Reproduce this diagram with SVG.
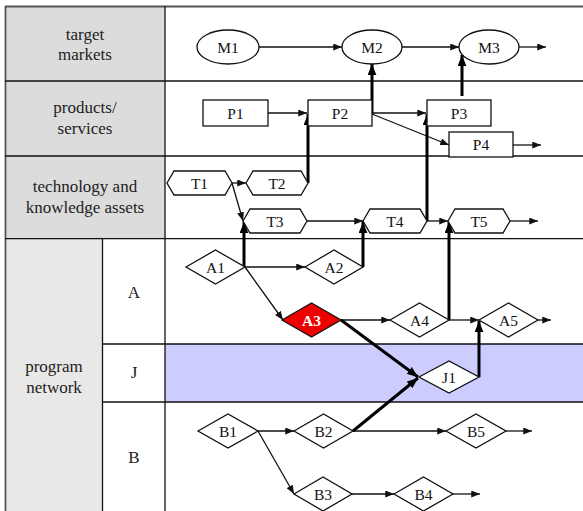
<svg xmlns="http://www.w3.org/2000/svg" width="583" height="511" viewBox="0 0 583 511">
<style>
.grid{stroke:#111;stroke-width:1.3;fill:none}
.hd{font-family:"Liberation Serif","Times New Roman",serif;font-size:17px;fill:#222;text-anchor:middle}
.lb{font-family:"Liberation Serif","Times New Roman",serif;font-size:15.5px;fill:#111;text-anchor:middle}
.shape{fill:#fff;stroke:#111;stroke-width:1.3}
.thin{stroke:#111;stroke-width:1.3;fill:none;marker-end:url(#ah)}
.thick{stroke:#000;stroke-width:3;fill:none;marker-end:url(#ahb)}
</style>
<defs>
<marker id="ah" viewBox="0 0 10 8" refX="10" refY="4" markerWidth="9" markerHeight="7" markerUnits="userSpaceOnUse" orient="auto"><path d="M0,0 L10,4 L0,8 z" fill="#111"/></marker>
<marker id="ahb" viewBox="0 0 10 8" refX="10" refY="4" markerWidth="11" markerHeight="9" markerUnits="userSpaceOnUse" orient="auto"><path d="M0,0 L10,4 L0,8 z" fill="#000"/></marker>
</defs>
<rect x="0" y="0" width="583" height="511" fill="#fff"/>
<g id="table">
<rect x="5" y="6" width="160" height="232.7" fill="#dcdcdc"/>
<rect x="5" y="238.7" width="97.5" height="272.3" fill="#e8e8e8"/>
<rect x="165" y="344" width="418" height="58" fill="#ccccff"/>
<line x1="5" y1="6.5" x2="583" y2="6.5" stroke="#555" stroke-width="1.8"/>
<line x1="5.5" y1="6" x2="5.5" y2="511" stroke="#555" stroke-width="1.8"/>
<line class="grid" x1="5" y1="81" x2="583" y2="81"/>
<line class="grid" x1="5" y1="156" x2="583" y2="156"/>
<line class="grid" x1="5" y1="238.7" x2="583" y2="238.7"/>
<line class="grid" x1="102.5" y1="344" x2="583" y2="344"/>
<line class="grid" x1="102.5" y1="402" x2="583" y2="402"/>
<line class="grid" x1="165" y1="6" x2="165" y2="511"/>
<line class="grid" x1="102.5" y1="238.7" x2="102.5" y2="511"/>
<text class="hd" x="85" y="40">target</text>
<text class="hd" x="85" y="60">markets</text>
<text class="hd" x="85" y="113">products/</text>
<text class="hd" x="85" y="134">services</text>
<text class="hd" x="85" y="192">technology and</text>
<text class="hd" x="85" y="213">knowledge assets</text>
<text class="hd" x="54" y="372">program</text>
<text class="hd" x="54" y="393">network</text>
<text class="hd" x="134" y="298">A</text>
<text class="hd" x="134" y="378">J</text>
<text class="hd" x="134" y="463">B</text>
</g>
<g id="connectors">
<line class="thin" x1="259" y1="47" x2="342" y2="47"/>
<line class="thin" x1="402" y1="47" x2="459" y2="47"/>
<line class="thin" x1="519" y1="47" x2="546" y2="47"/>
<line class="thin" x1="268" y1="113" x2="307" y2="113"/>
<line class="thin" x1="372" y1="113" x2="426" y2="113"/>
<line class="thin" x1="372" y1="114" x2="449" y2="145"/>
<line class="thin" x1="513" y1="145" x2="541" y2="145"/>
<line class="thin" x1="232" y1="183" x2="246" y2="183"/>
<line class="thin" x1="232" y1="183" x2="243" y2="221"/>
<line class="thin" x1="307" y1="221" x2="363" y2="221"/>
<line class="thin" x1="427" y1="221" x2="448" y2="221"/>
<line class="thin" x1="510" y1="221" x2="538" y2="221"/>
<line class="thin" x1="245" y1="267" x2="305" y2="267"/>
<line class="thin" x1="245" y1="267" x2="283" y2="320"/>
<line class="thin" x1="341" y1="320" x2="390" y2="320"/>
<line class="thin" x1="449" y1="320" x2="479" y2="320"/>
<line class="thin" x1="538" y1="320" x2="551" y2="320"/>
<line class="thin" x1="258" y1="431" x2="294" y2="431"/>
<line class="thin" x1="353" y1="431" x2="446" y2="431"/>
<line class="thin" x1="506" y1="431" x2="532" y2="431"/>
<line class="thin" x1="258" y1="431" x2="294" y2="494"/>
<line class="thin" x1="352" y1="494" x2="394" y2="494"/>
<line class="thin" x1="453" y1="494" x2="480" y2="494"/>
<line class="thick" x1="372" y1="114" x2="372" y2="64"/>
<line class="thick" x1="462" y1="96" x2="462" y2="55"/>
<line class="thick" x1="308" y1="183" x2="308" y2="114"/>
<line class="thick" x1="427" y1="221" x2="427" y2="114"/>
<line class="thick" x1="244" y1="267" x2="244" y2="222"/>
<line class="thick" x1="363" y1="267" x2="363" y2="222"/>
<line class="thick" x1="449" y1="320" x2="449" y2="222"/>
<line class="thick" x1="341" y1="320" x2="418" y2="377"/>
<line class="thick" x1="353" y1="431" x2="418" y2="378"/>
<line class="thick" x1="479" y1="377" x2="479" y2="321"/>
</g>
<g id="M1"><ellipse class="shape" cx="228" cy="47" rx="31" ry="17"/><text class="lb" x="228" y="52.5">M1</text></g>
<g id="M2"><ellipse class="shape" cx="372" cy="47" rx="30" ry="17"/><text class="lb" x="372" y="52.5">M2</text></g>
<g id="M3"><ellipse class="shape" cx="489" cy="47" rx="30" ry="17"/><text class="lb" x="489" y="52.5">M3</text></g>
<g id="P1"><rect class="shape" x="203" y="100" width="65" height="26"/><text class="lb" x="235.5" y="118.5">P1</text></g>
<g id="P2"><rect class="shape" x="308" y="100" width="64" height="26"/><text class="lb" x="340" y="118.5">P2</text></g>
<g id="P3"><rect class="shape" x="427" y="100" width="64" height="26"/><text class="lb" x="459" y="118.5">P3</text></g>
<g id="P4"><rect class="shape" x="449" y="132" width="64" height="25"/><text class="lb" x="481" y="150">P4</text></g>
<g id="T1"><polygon class="shape" points="167,183 174,171 225,171 232,183 225,195 174,195"/><text class="lb" x="199.5" y="188.5">T1</text></g>
<g id="T2"><polygon class="shape" points="246,183 253,171 301,171 308,183 301,195 253,195"/><text class="lb" x="277" y="188.5">T2</text></g>
<g id="T3"><polygon class="shape" points="243,221 250,209 300,209 307,221 300,233 250,233"/><text class="lb" x="275" y="226.5">T3</text></g>
<g id="T4"><polygon class="shape" points="363,221 370,209 420,209 427,221 420,233 370,233"/><text class="lb" x="395" y="226.5">T4</text></g>
<g id="T5"><polygon class="shape" points="448,221 455,209 503,209 510,221 503,233 455,233"/><text class="lb" x="479" y="226.5">T5</text></g>
<g id="A1"><polygon class="shape" points="186,267 215.5,250 245,267 215.5,284"/><text class="lb" x="215.5" y="272.5">A1</text></g>
<g id="A2"><polygon class="shape" points="305,267 334,250 363,267 334,284"/><text class="lb" x="334" y="272.5">A2</text></g>
<g id="A3"><polygon points="282,320 311.5,303 341,320 311.5,337" fill="#ee0000" stroke="#111" stroke-width="1.3"/><text x="311.5" y="325.5" font-family="Liberation Serif, Times New Roman, serif" font-size="15.5" text-anchor="middle" fill="#fff" font-weight="bold">A3</text></g>
<g id="A4"><polygon class="shape" points="390,320 419.5,303 449,320 419.5,337"/><text class="lb" x="419.5" y="325.5">A4</text></g>
<g id="A5"><polygon class="shape" points="479,320 508.5,303 538,320 508.5,337"/><text class="lb" x="508.5" y="325.5">A5</text></g>
<g id="J1"><polygon class="shape" points="419,377 449,361 479,377 449,393"/><text class="lb" x="449" y="382.5">J1</text></g>
<g id="B1"><polygon class="shape" points="198,431 228,414 258,431 228,448"/><text class="lb" x="228" y="436.5">B1</text></g>
<g id="B2"><polygon class="shape" points="294,431 323.5,414 353,431 323.5,448"/><text class="lb" x="323.5" y="436.5">B2</text></g>
<g id="B5"><polygon class="shape" points="446,431 476,414 506,431 476,448"/><text class="lb" x="476" y="436.5">B5</text></g>
<g id="B3"><polygon class="shape" points="294,494 323,477 352,494 323,511"/><text class="lb" x="323" y="499.5">B3</text></g>
<g id="B4"><polygon class="shape" points="394,494 423.5,477 453,494 423.5,511"/><text class="lb" x="423.5" y="499.5">B4</text></g>
</svg>
